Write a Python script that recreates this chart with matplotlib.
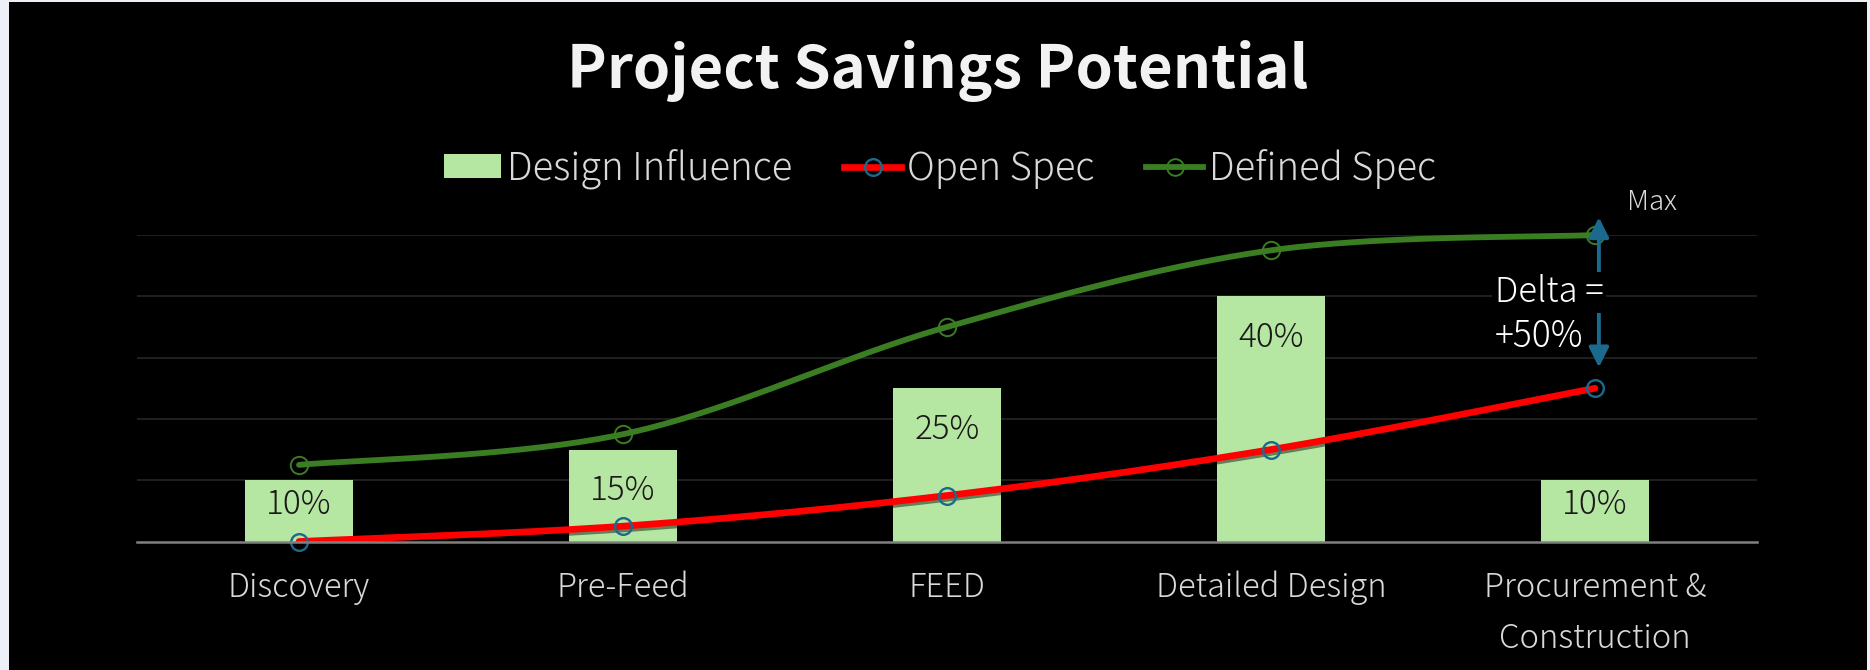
import numpy as np
import matplotlib.pyplot as plt
import matplotlib.patheffects as pe
from matplotlib.lines import Line2D
from matplotlib.patches import Patch, Rectangle

plt.rcParams['font.family'] = ['Noto Sans CJK JP', 'DejaVu Sans']

stages = ["Discovery", "Pre-Feed", "FEED", "Detailed Design", "Procurement &\nConstruction"]
design_influence = [10, 15, 25, 40, 10]
open_spec = [0, 2.5, 7.5, 15, 25]
defined_spec = [12.5, 17.5, 35, 47.5, 50]

BAR = '#B5E6A2'
RED = '#FF0000'
GREEN = '#3A7D22'
BLUE = '#1B6A8D'
TXT = '#D9D9D9'


def smooth(xs, ys, steps=40):
    # bezier segments through every point (catmull-rom tangents)
    p = np.column_stack([xs, ys]).astype(float)
    p = np.vstack([p[0], p, p[-1]])
    out = [p[1]]
    t = np.linspace(0, 1, steps)[1:, None]
    for i in range(1, len(p) - 2):
        c1 = p[i] + (p[i + 1] - p[i - 1]) / 6
        c2 = p[i + 1] - (p[i + 2] - p[i]) / 6
        seg = ((1 - t) ** 3 * p[i] + 3 * (1 - t) ** 2 * t * c1
               + 3 * (1 - t) * t ** 2 * c2 + t ** 3 * p[i + 1])
        out.extend(seg)
    out = np.array(out)
    return out[:, 0], out[:, 1]


fig = plt.figure(figsize=(18.7, 6.7), dpi=100, facecolor='#EDF0F6')
fig.add_artist(Rectangle((9 / 1870, 0), 1858 / 1870, 668 / 670, transform=fig.transFigure,
                         facecolor='black', edgecolor='none', zorder=-5))

ax = fig.add_axes([137 / 1870, 1 - 541.5 / 670, 1620 / 1870, 306.5 / 670])
ax.set_facecolor('black')
x = np.arange(len(stages))

ax.bar(x, design_influence, width=0.335, color=BAR, zorder=2)
for xi, v in zip(x, design_influence):
    # label sits near the top of the bar, lower down on short bars
    ax.text(xi, v - min(8.2, 0.55 * v), f"{v}%", ha='center', va='baseline',
            fontsize=24, fontweight='light', color='#1A1A1A', zorder=4)

sx, sy = smooth(x, open_spec)
ax.plot(sx, sy, color=RED, lw=4.8, solid_capstyle='round', zorder=3,
        path_effects=[pe.SimpleLineShadow(offset=(0.5, -2), shadow_color='black', alpha=0.45), pe.Normal()])
ax.plot(x, open_spec, 'o', ms=12, mfc='none', mec=BLUE, mew=1.7, zorder=3, clip_on=False)

gx, gy = smooth(x, defined_spec)
ax.plot(gx, gy, color=GREEN, lw=4.2, solid_capstyle='round', zorder=3, clip_on=False)
ax.plot(x, defined_spec, 'o', ms=12.5, mfc='none', mec=GREEN, mew=1.4, zorder=3, clip_on=False)

ax.set_xlim(-0.5, 4.5)
ax.set_ylim(0, 50)
ax.set_yticks([10, 20, 30, 40, 50])
ax.yaxis.grid(True, color='#262626', lw=1.2)
ax.set_axisbelow(True)
ax.tick_params(axis='y', length=0, labelleft=False)
for s in ['top', 'left', 'right']:
    ax.spines[s].set_visible(False)
ax.spines['bottom'].set_color('#808080')
ax.spines['bottom'].set_linewidth(1.8)
ax.spines['bottom'].set_zorder(5)

ax.set_xticks(x, stages)
ax.tick_params(axis='x', length=0, pad=21, labelsize=23.5, labelcolor=TXT)
for lab in ax.get_xticklabels():
    lab.set_fontweight('light')
    lab.set_linespacing(1.62)

# delta annotation on the last stage
ax.annotate('', xy=(4.012, 52.9), xytext=(4.012, 28.4),
            arrowprops=dict(arrowstyle='<|-|>,head_length=0.6,head_width=0.3', mutation_scale=20,
                            color=BLUE, lw=2.8, shrinkA=0, shrinkB=0), annotation_clip=False, zorder=4)
ax.text(3.69, 39.0, "Delta =", fontsize=25, fontweight='light', color='white', va='baseline',
        zorder=6, bbox=dict(facecolor='black', edgecolor='none', pad=2))
ax.text(3.69, 31.8, "+50%", fontsize=25.5, fontweight='light', color='white', va='baseline', zorder=6)
ax.text(4.10, 54.0, "Max", fontsize=20, fontweight='light', color=TXT, va='baseline')

fig.text(937.5 / 1870, 1 - 88.3 / 670, "Project Savings Potential", ha='center', va='baseline',
         fontsize=43, fontweight='bold', color='#F2F2F2')

handles = [Patch(facecolor=BAR, edgecolor='none', label='Design Influence'),
           Line2D([], [], color=RED, lw=4.8, marker='o', ms=12, mfc='none', mec=BLUE, mew=1.7, label='Open Spec'),
           Line2D([], [], color=GREEN, lw=4.2, marker='o', ms=12, mfc='none', mec=GREEN, mew=1.4, label='Defined Spec')]
fig.legend(handles=handles, loc='center', bbox_to_anchor=(940 / 1870, 1 - 169 / 670), ncol=3,
           frameon=False, prop=dict(size=27.5, weight='light'), labelcolor=TXT,
           handlelength=1.5, handleheight=0.6, handletextpad=0.15, columnspacing=1.35)

fig.savefig('out.png', dpi=100, facecolor=fig.get_facecolor())
